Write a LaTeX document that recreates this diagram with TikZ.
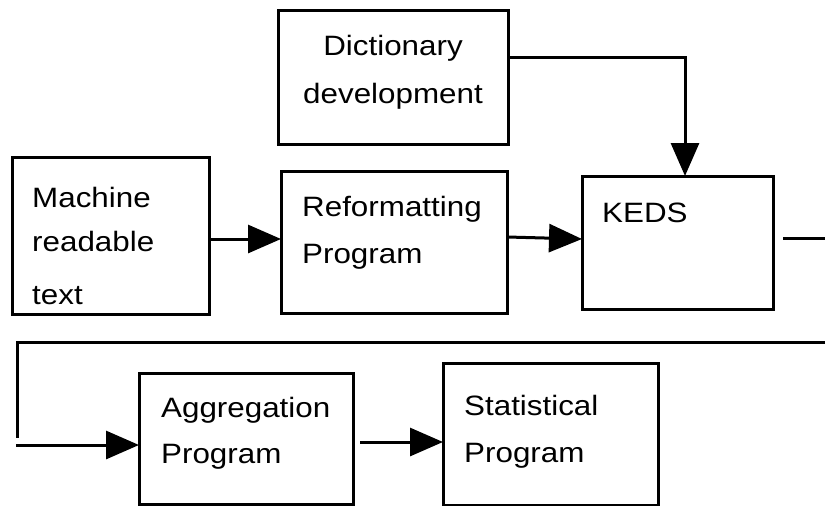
\documentclass[tikz,border=0pt]{standalone}
\usepackage{fontspec}
\setmainfont{Liberation Sans}[FakeStretch=1.12]
\usetikzlibrary{arrows.meta}

\begin{document}
\begin{tikzpicture}[x=1pt, y=-1pt,
  box/.style={draw, rectangle, line width=3pt, inner sep=0pt, outer sep=0pt},
  lbl/.style={anchor=base west, inner sep=0pt, font=\fontsize{28}{30}\selectfont},
  clbl/.style={lbl, anchor=base},
  wire/.style={line width=3pt},
  arr/.style={wire, -{Triangle[length=33pt, width=28pt]}}]

  \useasboundingbox (0,0) rectangle (825,506);

  % process boxes
  \node[box, minimum width=230pt, minimum height=134pt] (dict)   at (393,77)    {};
  \node[box, minimum width=197pt, minimum height=157pt] (mach)   at (110.5,235.5) {};
  \node[box, minimum width=226pt, minimum height=142pt] (reform) at (394,242)   {};
  \node[box, minimum width=191pt, minimum height=133pt] (keds)   at (677.5,242.5) {};
  \node[box, minimum width=214pt, minimum height=131pt] (aggr)   at (246,438.5) {};
  \node[box, minimum width=215pt, minimum height=142pt] (stat)   at (550.5,434) {};

  % box labels
  \node[clbl] (dict1) at (393,55)  {Dictionary};
  \node[clbl] (dict2) at (393,103) {development};
  \node[lbl] (mach1) at (32,207) {Machine};
  \node[lbl] (mach2) at (32,251) {readable};
  \node[lbl] (mach3) at (32,304) {text};
  \node[lbl] (ref1) at (302,216) {Reformatting};
  \node[lbl] (ref2) at (302,263) {Program};
  \node[lbl] (keds1) at (602,222) {KEDS};
  \node[lbl] (agg1) at (161,417) {Aggregation};
  \node[lbl] (agg2) at (161,463) {Program};
  \node[lbl] (stat1) at (464,415) {Statistical};
  \node[lbl] (stat2) at (464,462) {Program};

  % bend points of the connectors
  \coordinate (dcorner) at (685,57);
  \coordinate (kout)    at (825,238);
  \coordinate (rright)  at (825,342);
  \coordinate (rleft)   at (17,342);
  \coordinate (rdown)   at (17,438);
  \coordinate (ain)     at (16,445);

  % connectors
  \draw[arr] (dict.east |- dcorner) -- (dcorner) -- (keds.north -| dcorner);
  \draw[arr] (mach.east |- 0,239) -- (reform.west |- 0,239);
  \draw[arr] (reform.east |- 0,237) -- (keds.west |- 0,239);
  \draw[wire] ([xshift=10pt]keds.east |- kout) -- (kout);
  \draw[wire] (rright) -- (rleft) -- (rdown);
  \draw[arr] (ain) -- (aggr.west |- ain);
  \draw[arr] ([xshift=7pt]aggr.east |- 0,442) -- (stat.west |- 0,442);
\end{tikzpicture}
\end{document}
